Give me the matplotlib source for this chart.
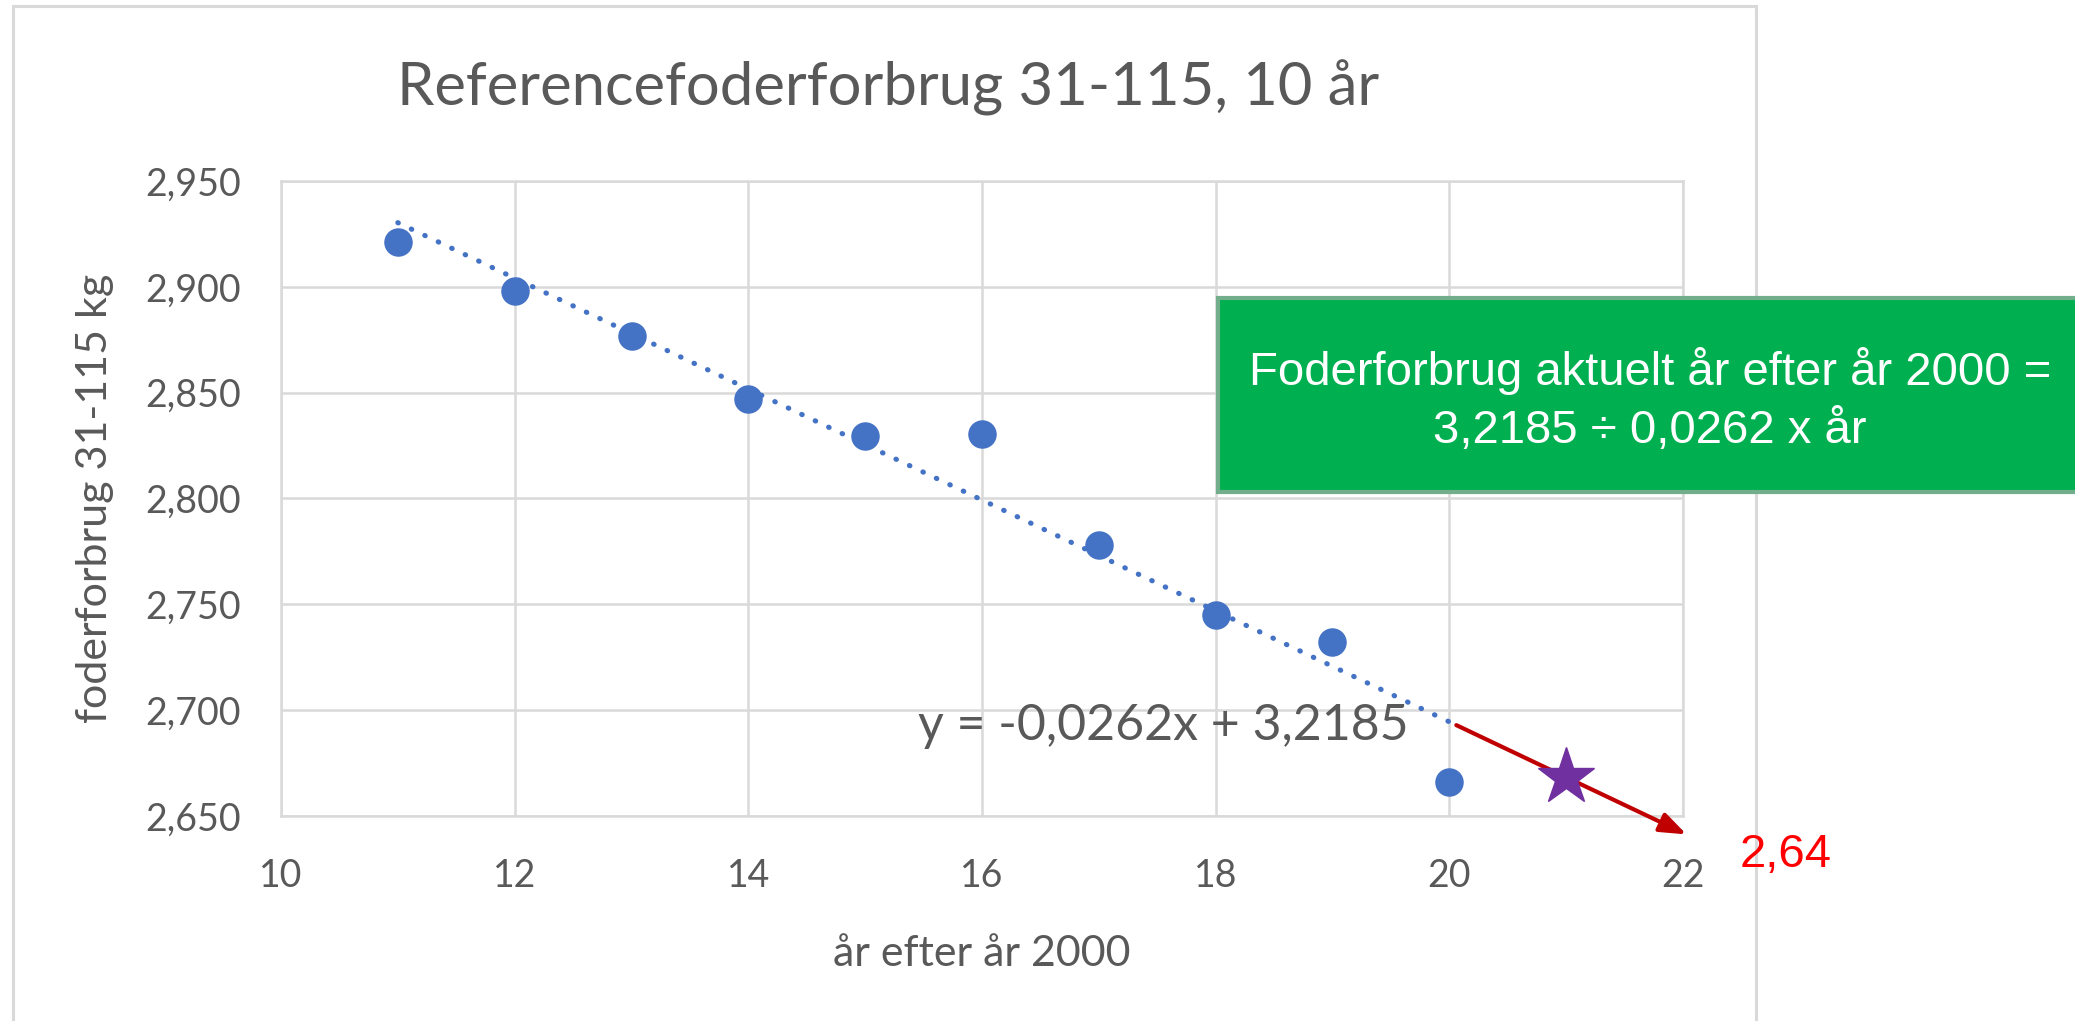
import numpy as np
import matplotlib
matplotlib.use("Agg")
import matplotlib.pyplot as plt
from matplotlib.patches import Rectangle
from matplotlib.ticker import FuncFormatter, MultipleLocator

# data
years = [11, 12, 13, 14, 15, 16, 17, 18, 19, 20]
feed = [2.921, 2.898, 2.877, 2.847, 2.8296, 2.8304, 2.778, 2.745, 2.732, 2.666]
predict_year = 21
arrow_years = [20.06, 22.03]
label_year = 22

title = "Referencefoderforbrug 31-115, 10 år"
xlabel = "år efter år 2000"
ylabel = "foderforbrug 31-115 kg"
box_lines = ["Foderforbrug aktuelt år efter år 2000 =", "3,2185 ÷ 0,0262 x år"]

grey_txt = "#595959"
grid_c = "#d9d9d9"
blue = "#4472c4"
calibri = ["Lato", "DejaVu Sans"]
narrow = ["Liberation Sans Narrow", "Liberation Sans", "DejaVu Sans"]

W, H = 2075, 1021
fig = plt.figure(figsize=(W / 100, H / 100), dpi=100)
ax = fig.add_axes([281 / W, 1 - 816 / H, (1683 - 281) / W, (816 - 181) / H])

# linear trend
slope, icpt = np.polyfit(years, feed, 1)
fit = np.poly1d([slope, icpt])

ax.plot(years, feed, "o", color=blue, ms=19.5, zorder=3)
tx = np.array([years[0], years[-1]])
ax.plot(tx, fit(tx), color=blue, lw=3.7, linestyle=(0, (0.1, 2.8)),
        dash_capstyle="round", zorder=2)

ax.set_xlim(10, 22)
ax.set_ylim(2.65, 2.95)
ax.xaxis.set_major_locator(MultipleLocator(2))
ax.yaxis.set_major_locator(MultipleLocator(0.05))
ax.yaxis.set_major_formatter(FuncFormatter(lambda v, p: f"{v:.3f}".replace(".", ",")))
ax.grid(True, color=grid_c, lw=1.8, zorder=0)
for s in ax.spines.values():
    s.set_color(grid_c)
    s.set_linewidth(1.8)
ax.tick_params(length=0, labelsize=27, labelcolor=grey_txt)
ax.tick_params(axis="y", pad=29)
ax.tick_params(axis="x", pad=30)
for lab in ax.get_xticklabels() + ax.get_yticklabels():
    lab.set_family(calibri)

ax.set_xlabel(xlabel, fontsize=31, color=grey_txt, family=calibri, labelpad=30)
ax.set_ylabel(ylabel, fontsize=31, color=grey_txt, family=calibri, labelpad=22)

fig.text(888 / W, 1 - 105 / H, title, fontsize=43, color=grey_txt,
         family=calibri, ha="center", va="baseline")

# trend equation
ax.text(15.45, 2.6859, "y = " + f"{slope:.4f}x + {icpt:.4f}".replace(".", ","),
        fontsize=36, color=grey_txt, family=calibri, ha="left", va="baseline")

# arrow along trend + prediction star
ax.annotate("", xy=(arrow_years[1], fit(arrow_years[1])),
            xytext=(arrow_years[0], fit(arrow_years[0])),
            arrowprops=dict(arrowstyle="-|>,head_length=0.8,head_width=0.3",
                            color="#c00000", lw=3, mutation_scale=20,
                            shrinkA=0, shrinkB=0),
            annotation_clip=False, zorder=4)
ax.plot([predict_year], [fit(predict_year)], marker="*", color="#7030a0",
        ms=43, mec="#7030a0", clip_on=False, zorder=5)
fig.text(1740 / W, 1 - 867 / H, f"{fit(label_year):.2f}".replace(".", ","),
         fontsize=34, color="#ff0000", family=narrow, ha="left", va="baseline")

# outer chart frame
fig.add_artist(Rectangle((13 / W, -0.05), (1756 - 13) / W, 1.05 - 6 / H,
                         transform=fig.transFigure, fill=False,
                         ec=grid_c, lw=2.2, zorder=0))

# green box
fig.add_artist(Rectangle((1218 / W, 1 - 492 / H), 0.5, (492 - 298) / H,
                         transform=fig.transFigure, fc="#00b050",
                         ec="#72ae8c", lw=3, zorder=10))
fig.text(1650 / W, 1 - 385 / H, box_lines[0], fontsize=34, color="white",
         family=narrow, ha="center", va="baseline", zorder=11)
fig.text(1650 / W, 1 - 443 / H, box_lines[1], fontsize=34, color="white",
         family=narrow, ha="center", va="baseline", zorder=11)

fig.savefig("out.png", dpi=100)
